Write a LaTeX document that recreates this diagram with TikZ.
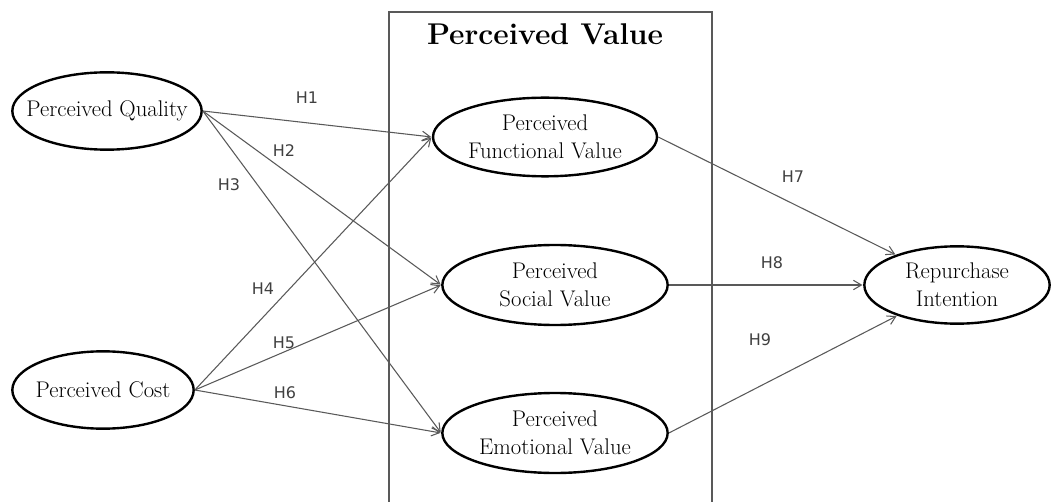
\documentclass[tikz,border=0pt]{standalone}
\usepackage{fontspec}
\newfontfamily\hypfont{DejaVu Sans}
\usetikzlibrary{shapes.geometric}
\usetikzlibrary{arrows.meta}
\usetikzlibrary{positioning}

\begin{document}
\begin{tikzpicture}[x=0.75pt,y=-0.75pt,>={Straight Barb[length=6pt,width=7pt]},
    construct/.style={ellipse,draw=black,line width=1.8pt,inner sep=0pt},
    construct text/.style={align=center,font=\fontsize{17}{21}\selectfont},
    hyp/.style={->,draw=black!65,line width=0.8pt,shorten >=0.5pt},
    hyp label/.style={font=\hypfont\fontsize{12}{14}\selectfont,text=black!75}]
   \useasboundingbox (0,0) rectangle (1052,502);
   \begin{scope}
     % perceived value box, open at the bottom
     \draw[black!65,line width=1.4pt] (389,502) |- (712,12) -- (712,502);
     \node[font=\bfseries\fontsize{22.5}{27}\selectfont] (pvtitle) at (545,34) {Perceived Value};
      \node[construct,minimum width=142pt,minimum height=58pt,label={[construct text]center:Perceived Quality}] (pq) at (107,111) {};
      \node[construct,minimum width=136pt,minimum height=58pt,label={[construct text]center:Perceived Cost}] (pc) at (103,390) {};
      \node[construct,minimum width=168pt,minimum height=59pt,label={[construct text]center:Perceived\\Functional Value}] (pf) at (545,137) {};
      \node[construct,minimum width=169pt,minimum height=60pt,label={[construct text]center:Perceived\\Social Value}] (ps) at (555,285) {};
      \node[construct,minimum width=169pt,minimum height=60pt,label={[construct text]center:Perceived\\Emotional Value}] (pe) at (555,433) {};
      \node[construct,minimum width=139pt,minimum height=58pt,label={[construct text]center:Repurchase\\Intention}] (ri) at (957,285) {};
       \path (pq.east) edge[hyp] (pf.west) edge[hyp] (ps.west) edge[hyp] (pe.west);
       \path (pc.east) edge[hyp] (pf.west) edge[hyp] (ps.west) edge[hyp] (pe.west);
       \path (pf.east) edge[hyp] (ri);
       \path (ps.east) edge[hyp] (ri.west);
       \path (pe.east) edge[hyp] (ri);
      \node[hyp label] (h1) at (307,98) {H1};
      \node[hyp label] (h2) at (284,151) {H2};
      \node[hyp label] (h3) at (229,185) {H3};
      \node[hyp label] (h4) at (263,289) {H4};
      \node[hyp label] (h5) at (284,343) {H5};
      \node[hyp label] (h6) at (285,393) {H6};
      \node[hyp label] (h7) at (793,177) {H7};
      \node[hyp label] (h8) at (772,263) {H8};
      \node[hyp label] (h9) at (760,340) {H9};
    \end{scope}
  \end{tikzpicture}
\end{document}
